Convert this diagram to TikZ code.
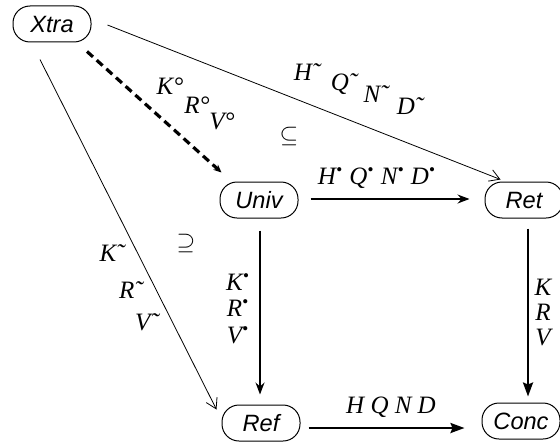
\documentclass[tikz,border=0pt]{standalone}
\usepackage{fontspec}
\setmainfont{Liberation Serif}
\newfontfamily\boxfont{Liberation Sans}
\usetikzlibrary{arrows.meta,calc}
\begin{document}
\begin{tikzpicture}[x=0.5pt,y=-0.5pt,
  box/.style={draw, line width=0.5pt, rounded corners=8.5pt, minimum width=39pt, minimum height=18pt, inner sep=1pt, font=\boxfont\itshape\fontsize{11.8}{13}\selectfont},
  lbl/.style={inner sep=0pt, font=\itshape\fontsize{12.5}{14}\selectfont},
  incl/.style={inner sep=0pt, font=\fontsize{12}{14}\selectfont},
  thinarr/.style={line width=0.4pt, -{Straight Barb[length=5pt,width=6pt]}},
  medarr/.style={line width=0.75pt, -{Stealth[length=6pt,width=4.5pt,inset=2pt]}},
  thickarr/.style={line width=1.2pt, -{Stealth[length=7pt,width=5pt,inset=1pt]}},
  dasharr/.style={line width=1.6pt, dash pattern=on 4pt off 2.5pt, -{Stealth[length=4pt,width=3.5pt]}}]
\useasboundingbox (0,0) rectangle (560,444);

\node[box] (Xtra) at (52,24) {Xtra};
\node[box] (Univ) at (259,200) {Univ};
\node[box] (Ret)  at (524,200) {Ret};
\node[box] (Ref)  at (261,423) {Ref};
\node[box] (Conc) at (521,421) {Conc};

\draw[thinarr] ($(Xtra.east)+(16,1)$) -- ($(Ret.north west)+(16,-2)$);
\draw[dasharr] ($(Xtra.south)+(35,9)$) -- ($(Univ.north west)+(2,-9)$);
\draw[thinarr] ($(Xtra.south)+(-12,17)$) -- ($(Ref.north west)+(-5,5)$);
\draw[medarr] ($(Univ.east)+(12,-1)$) -- ($(Ret.west)+(-15,-1)$);
\draw[medarr] ($(Univ.south)+(1,12)$) -- ($(Ref.north)+(-1,-10)$);
\draw[thickarr] ($(Ret.south)+(4,10)$) -- ($(Conc.north)+(7,-6)$);
\draw[thickarr] ($(Ref.east)+(8,5)$) -- ($(Conc.west)+(-17,7)$);

% Xtra -> Ret labels
\node[lbl] (h1) at (307,72) {H˜};
\node[lbl] (q1) at (344,84) {Q˜};
\node[lbl] (n1) at (376,94) {N˜};
\node[lbl] (d1) at (410,106) {D˜};
% Xtra -> Univ labels
\node[lbl] (k1) at (170,86) {K°};
\node[lbl] (r1) at (197,105) {R°};
\node[lbl] (v1) at (222,121) {V°};
% Xtra -> Ref labels
\node[lbl] (k2) at (112,253) {K˜};
\node[lbl] (r2) at (131,290) {R˜};
\node[lbl] (v2) at (147,322) {V˜};
% Univ -> Ret
\node[lbl] (hb) at (377,178) {H\textsuperscript{•} Q\textsuperscript{•} N\textsuperscript{•} D\textsuperscript{•}};
% Univ -> Ref
\node[lbl] (kb) at (238,282) {K\textsuperscript{•}};
\node[lbl] (rb) at (238,308) {R\textsuperscript{•}};
\node[lbl] (vb) at (238,335) {V\textsuperscript{•}};
% Ret -> Conc
\node[lbl] (k3) at (543,287) {K};
\node[lbl] (r3) at (543,312) {R};
\node[lbl] (v3) at (543,337) {V};
% Ref -> Conc
\node[lbl] (hq) at (391,407) {H Q N D};
% inclusions
\node[incl] (sub) at (289,136) {$\subseteq$};
\node[incl] (sup) at (186,243) {$\supseteq$};
\end{tikzpicture}
\end{document}
